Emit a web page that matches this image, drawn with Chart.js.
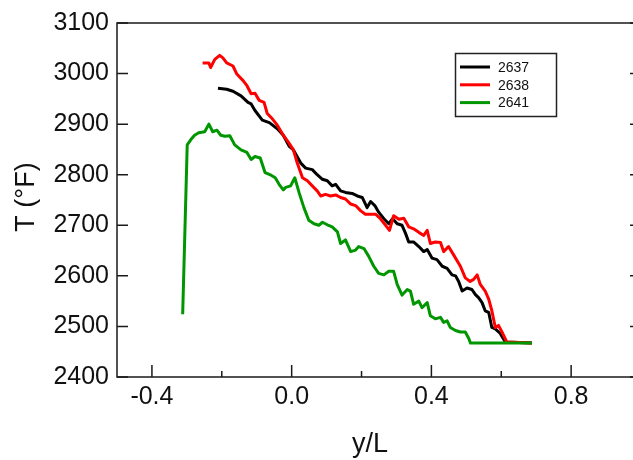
<!DOCTYPE html>
<html>
<head>
<meta charset="utf-8">
<script src="https://cdn.jsdelivr.net/npm/chart.js@4/dist/chart.umd.min.js"></script>
<style>
  html, body { margin: 0; padding: 0; background: #fff; overflow: hidden; }
  #wrap { position: absolute; left: 0; top: 0; width: 645px; height: 460px; }
</style>
</head>
<body>
<div id="wrap"><canvas id="tempChart"></canvas></div>
<script>
// axis ticks
const xTicks = [-0.4, -0.2, 0, 0.2, 0.4, 0.6, 0.8]
const xLabels = [-0.4, 0, 0.4, 0.8]
const yTicks = [2400, 2500, 2600, 2700, 2800, 2900, 3000, 3100]

// run 2637
const x2637 = [-0.211, -0.186, -0.168, -0.145, -0.125, -0.116, -0.105, -0.084, -0.064, -0.041, -0.024, -0.007, 0.005, 0.026, 0.040, 0.059, 0.073, 0.088, 0.102, 0.116, 0.126, 0.140, 0.154, 0.173, 0.188, 0.202, 0.216, 0.226, 0.238, 0.249, 0.264, 0.278, 0.289, 0.302, 0.316, 0.326, 0.335, 0.349, 0.364, 0.378, 0.388, 0.402, 0.416, 0.431, 0.445, 0.459, 0.469, 0.478, 0.488, 0.502, 0.516, 0.526, 0.535, 0.545, 0.554, 0.564, 0.573, 0.583, 0.597, 0.612, 0.688]
const t2637 = [2971, 2969, 2965, 2956, 2943, 2940, 2927, 2908, 2903, 2891, 2878, 2856, 2849, 2823, 2813, 2810, 2800, 2791, 2788, 2778, 2781, 2768, 2765, 2763, 2758, 2755, 2735, 2747, 2739, 2726, 2713, 2703, 2713, 2703, 2700, 2684, 2667, 2667, 2658, 2648, 2652, 2635, 2632, 2619, 2615, 2602, 2600, 2589, 2570, 2576, 2573, 2563, 2557, 2547, 2531, 2528, 2498, 2495, 2486, 2469, 2467]

// run 2638
const x2638 = [-0.255, -0.237, -0.232, -0.220, -0.206, -0.197, -0.186, -0.168, -0.157, -0.139, -0.128, -0.116, -0.105, -0.093, -0.079, -0.070, -0.056, -0.041, -0.024, -0.010, 0.005, 0.016, 0.031, 0.045, 0.059, 0.073, 0.083, 0.097, 0.111, 0.126, 0.140, 0.154, 0.169, 0.183, 0.197, 0.211, 0.226, 0.240, 0.254, 0.269, 0.280, 0.292, 0.307, 0.321, 0.335, 0.349, 0.364, 0.378, 0.388, 0.397, 0.411, 0.426, 0.435, 0.449, 0.464, 0.483, 0.497, 0.511, 0.521, 0.531, 0.540, 0.554, 0.564, 0.573, 0.583, 0.592, 0.602, 0.616, 0.688]
const t2638 = [3021, 3021, 3012, 3028, 3036, 3031, 3021, 3015, 2999, 2986, 2976, 2960, 2961, 2947, 2943, 2921, 2911, 2898, 2878, 2865, 2849, 2823, 2794, 2788, 2778, 2768, 2758, 2761, 2758, 2760, 2755, 2752, 2742, 2739, 2729, 2722, 2722, 2722, 2713, 2700, 2690, 2719, 2712, 2714, 2697, 2693, 2686, 2680, 2690, 2664, 2667, 2666, 2648, 2658, 2641, 2619, 2596, 2589, 2593, 2602, 2583, 2570, 2554, 2531, 2498, 2502, 2489, 2469, 2467]

// run 2641
const x2641 = [-0.312, -0.299, -0.289, -0.278, -0.266, -0.249, -0.237, -0.226, -0.214, -0.203, -0.191, -0.177, -0.163, -0.145, -0.128, -0.116, -0.105, -0.090, -0.076, -0.059, -0.047, -0.036, -0.024, -0.017, -0.003, 0.009, 0.021, 0.035, 0.049, 0.064, 0.078, 0.088, 0.102, 0.116, 0.131, 0.140, 0.154, 0.169, 0.183, 0.192, 0.207, 0.221, 0.235, 0.249, 0.264, 0.278, 0.292, 0.302, 0.316, 0.331, 0.340, 0.349, 0.364, 0.373, 0.388, 0.397, 0.411, 0.426, 0.435, 0.445, 0.454, 0.469, 0.483, 0.497, 0.507, 0.512, 0.688]
const t2641 = [2524, 2859, 2869, 2878, 2883, 2885, 2900, 2885, 2888, 2878, 2876, 2877, 2859, 2849, 2844, 2830, 2836, 2833, 2804, 2799, 2794, 2781, 2770, 2775, 2778, 2794, 2765, 2735, 2710, 2703, 2700, 2706, 2701, 2697, 2687, 2664, 2671, 2648, 2651, 2658, 2654, 2638, 2619, 2605, 2602, 2609, 2609, 2583, 2562, 2573, 2570, 2544, 2550, 2537, 2547, 2521, 2515, 2518, 2508, 2511, 2498, 2492, 2489, 2489, 2476, 2467, 2467]

function pts(xs, ts) {
    return xs.map((v, i) => ({x: v, y: ts[i]}))
}

const fontName = '"Liberation Sans", Arial, sans-serif'

// box, inward ticks, axis titles and legend
const framePlugin = {
    id: 'frame',
    afterDraw(chart) {
        const ctx = chart.ctx
        const a = chart.chartArea
        const sx = chart.scales.x
        const sy = chart.scales.y
        ctx.save()
        ctx.strokeStyle = '#1a1a1a'
        ctx.lineWidth = 1.5
        ctx.strokeRect(a.left, a.top, a.right - a.left, a.bottom - a.top)
        ctx.beginPath()
        yTicks.forEach(v => {
            const py = sy.getPixelForValue(v)
            ctx.moveTo(a.left, py); ctx.lineTo(a.left + 11, py)
            ctx.moveTo(a.right, py); ctx.lineTo(a.right - 11, py)
        })
        xTicks.forEach(v => {
            const px = sx.getPixelForValue(v)
            const len = xLabels.includes(v) ? 12 : 6
            ctx.moveTo(px, a.bottom); ctx.lineTo(px, a.bottom - len)
        })
        ctx.stroke()

        ctx.fillStyle = '#111'
        ctx.font = '27px ' + fontName
        ctx.textAlign = 'center'
        ctx.textBaseline = 'middle'
        ctx.fillText('y/L', 370, 445)
        ctx.save()
        ctx.translate(27, 197)
        ctx.rotate(-Math.PI / 2)
        ctx.fillText('T (°F)', 0, 0)
        ctx.restore()

        // legend box
        ctx.lineWidth = 1.5
        ctx.strokeStyle = '#222'
        ctx.strokeRect(455.5, 53.5, 101, 63)
        ctx.font = '14px ' + fontName
        ctx.textAlign = 'left'
        chart.data.datasets.forEach((ds, i) => {
            const ly = 67 + i * 17.8
            ctx.strokeStyle = ds.borderColor
            ctx.lineWidth = 3
            ctx.beginPath()
            ctx.moveTo(460, ly); ctx.lineTo(490, ly)
            ctx.stroke()
            ctx.fillStyle = '#111'
            ctx.fillText(ds.label, 498, ly + 1)
        })
        ctx.restore()
    }
}

const ctx = document.getElementById('tempChart')
new Chart(ctx, {
    type: 'line',
    data: {
        datasets: [
            {label: '2637', data: pts(x2637, t2637), borderColor: '#000000', order: 2},
            {label: '2638', data: pts(x2638, t2638), borderColor: '#ff0000', order: 1},
            {label: '2641', data: pts(x2641, t2641), borderColor: '#009600', order: 0}
        ]
    },
    options: {
        responsive: true,
        maintainAspectRatio: false,
        animation: false,
        layout: {padding: {left: 0, right: 4, top: 18, bottom: 0}},
        elements: {
            line: {borderWidth: 3, tension: 0, borderJoinStyle: 'round', fill: false},
            point: {radius: 0, hoverRadius: 0}
        },
        plugins: {legend: {display: false}, tooltip: {enabled: false}},
        scales: {
            x: {
                type: 'linear',
                min: -0.5,
                max: 1.0,
                grid: {display: false, drawTicks: false},
                border: {display: false},
                afterBuildTicks: s => { s.ticks = xTicks.map(v => ({value: v})) },
                afterFit: s => { s.height = 83 },
                ticks: {
                    autoSkip: false,
                    maxRotation: 0,
                    padding: 5,
                    color: '#111',
                    font: {family: fontName, size: 25},
                    callback: v => xLabels.includes(v) ? v.toFixed(1) : ''
                }
            },
            y: {
                min: 2400,
                max: 3100,
                grid: {display: false, drawTicks: false},
                border: {display: false},
                afterBuildTicks: s => { s.ticks = yTicks.map(v => ({value: v})) },
                afterFit: s => { s.width = 117 },
                ticks: {
                    padding: 8,
                    color: '#111',
                    font: {family: fontName, size: 25},
                    callback: v => String(v)
                }
            }
        }
    },
    plugins: [framePlugin]
})
</script>
</body>
</html>
